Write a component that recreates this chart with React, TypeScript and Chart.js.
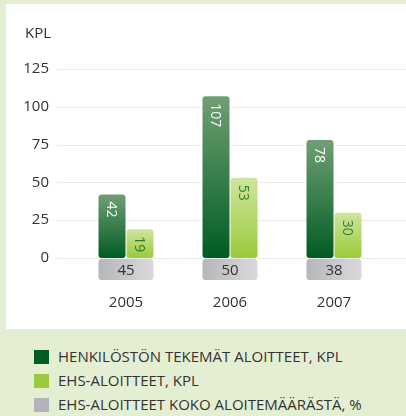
import React, { useEffect, useRef } from "react";
import { Chart, registerables } from "chart.js";

Chart.register(...registerables);

const years = ["2005", "2006", "2007"];
const staffIdeas = [42, 107, 78];
const ehsIdeas = [19, 53, 30];
const ehsShare = [45, 50, 38];
const yMin = 0;
const yMax = 125;
const yStep = 25;
const unitLabel = "KPL";
const legendLabels = [
  "HENKILÖSTÖN TEKEMÄT ALOITTEET, KPL",
  "EHS-ALOITTEET, KPL",
  "EHS-ALOITTEET KOKO ALOITEMÄÄRÄSTÄ, %",
];
const legendColors = ["#005c22", "#9acb3a", "#b3b3b8"];

const FONT = "'Open Sans', 'Noto Sans', sans-serif";

function barGradient(ctx: any, top: string, bottom: string) {
  const chart = ctx.chart;
  const area = chart.chartArea;
  if (!area || ctx.type !== "data") return bottom;
  const yScale = chart.scales.y;
  const v = ctx.raw as number;
  const yTop = yScale.getPixelForValue(v);
  const yBot = yScale.getPixelForValue(0);
  const g = chart.ctx.createLinearGradient(0, yTop, 0, yBot);
  g.addColorStop(0, top);
  g.addColorStop(1, bottom);
  return g;
}

const decorPlugin = {
  id: "decor",
  beforeDatasetsDraw(chart: any) {
    const { ctx, scales } = chart;
    ctx.save();
    ctx.strokeStyle = "#ebebeb";
    ctx.lineWidth = 1;
    for (let v = yMin; v <= yMax; v += yStep) {
      const y = Math.round(scales.y.getPixelForValue(v)) + 0.5;
      ctx.beginPath();
      ctx.moveTo(51, y);
      ctx.lineTo(chart.width, y);
      ctx.stroke();
    }
    ctx.fillStyle = "#333333";
    ctx.font = `15px ${FONT}`;
    ctx.textAlign = "left";
    ctx.textBaseline = "middle";
    ctx.fillText(unitLabel, 19, 30);
    ctx.restore();
  },
  afterDatasetsDraw(chart: any) {
    const { ctx, chartArea } = chart;
    ctx.save();
    chart.data.datasets.forEach((ds: any, di: number) => {
      const meta = chart.getDatasetMeta(di);
      meta.data.forEach((el: any, i: number) => {
        ctx.save();
        ctx.translate(el.x, el.y + 7);
        ctx.rotate(Math.PI / 2);
        ctx.font = `14px ${FONT}`;
        ctx.textAlign = "left";
        ctx.textBaseline = "middle";
        ctx.fillStyle = di === 0 ? "#ffffff" : "#2b7f2a";
        ctx.fillText(String(ds.data[i]), 0, 1);
        ctx.restore();
      });
    });
    const m0 = chart.getDatasetMeta(0);
    const m1 = chart.getDatasetMeta(1);
    ehsShare.forEach((v, i) => {
      const a = m0.data[i];
      const b = m1.data[i];
      const x0 = a.x - a.width / 2;
      const x1 = b.x + b.width / 2;
      const y0 = chartArea.bottom + 1;
      const h = 21;
      const g = ctx.createLinearGradient(x0, 0, x1, 0);
      g.addColorStop(0, "#b6b6ba");
      g.addColorStop(1, "#dadadc");
      ctx.fillStyle = g;
      ctx.beginPath();
      (ctx as any).roundRect(x0, y0, x1 - x0, h, 3);
      ctx.fill();
      ctx.fillStyle = "#333333";
      ctx.font = `15px ${FONT}`;
      ctx.textAlign = "center";
      ctx.textBaseline = "middle";
      ctx.fillText(String(v), (x0 + x1) / 2, y0 + h / 2 + 1);
    });
    ctx.restore();
  },
};

export default function App() {
  const ref = useRef<HTMLCanvasElement | null>(null);
  useEffect(() => {
    if (!ref.current) return;
    const chart = new Chart(ref.current, {
      type: "bar",
      data: {
        labels: years,
        datasets: [
          {
            label: legendLabels[0],
            data: staffIdeas,
            backgroundColor: (c: any) => barGradient(c, "#709f74", "#005c22"),
            borderRadius: 3,
            borderSkipped: false,
          },
          {
            label: legendLabels[1],
            data: ehsIdeas,
            backgroundColor: (c: any) => barGradient(c, "#cfe49e", "#9acb3a"),
            borderRadius: 3,
            borderSkipped: false,
          },
        ],
      },
      options: {
        responsive: false,
        animation: false,
        events: [],
        categoryPercentage: 56 / 104,
        barPercentage: 27 / 28,
        layout: { padding: { top: 65, right: 20, left: 0, bottom: 0 } },
        plugins: {
          legend: { display: false },
          tooltip: { enabled: false },
        },
        scales: {
          x: {
            grid: { display: false, drawTicks: false },
            border: { display: false },
            ticks: {
              padding: 36,
              color: "#333333",
              font: { family: FONT, size: 15 },
            },
            afterFit: (s: any) => {
              s.height = 71;
            },
          },
          y: {
            min: yMin,
            max: yMax,
            grid: { display: false, drawTicks: false },
            border: { display: false },
            ticks: {
              stepSize: yStep,
              padding: 25,
              color: "#333333",
              font: { family: FONT, size: 15 },
            },
            afterFit: (s: any) => {
              s.width = 68;
            },
          },
        },
      } as any,
      plugins: [decorPlugin],
    });
    return () => chart.destroy();
  }, []);

  return (
    <div
      style={{
        position: "absolute",
        left: 0,
        top: 0,
        width: 406,
        height: 416,
        background: "#e4eed2",
        overflow: "hidden",
        fontFamily: FONT,
      }}
    >
      <div
        style={{
          position: "absolute",
          left: 6,
          top: 4,
          width: 400,
          height: 325,
          background: "#ffffff",
        }}
      >
        <canvas ref={ref} width={400} height={325} style={{ display: "block" }} />
      </div>
      {legendLabels.map((t, i) => (
        <div
          key={t}
          style={{
            position: "absolute",
            left: 34,
            top: 349 + i * 24,
            height: 15,
            display: "flex",
            alignItems: "center",
            whiteSpace: "nowrap",
          }}
        >
          <span
            style={{
              width: 15,
              height: 14,
              background: legendColors[i],
              display: "inline-block",
              marginRight: 9,
            }}
          />
          <span style={{ fontSize: 15, color: "#333333", lineHeight: "15px" }}>{t}</span>
        </div>
      ))}
    </div>
  );
}
